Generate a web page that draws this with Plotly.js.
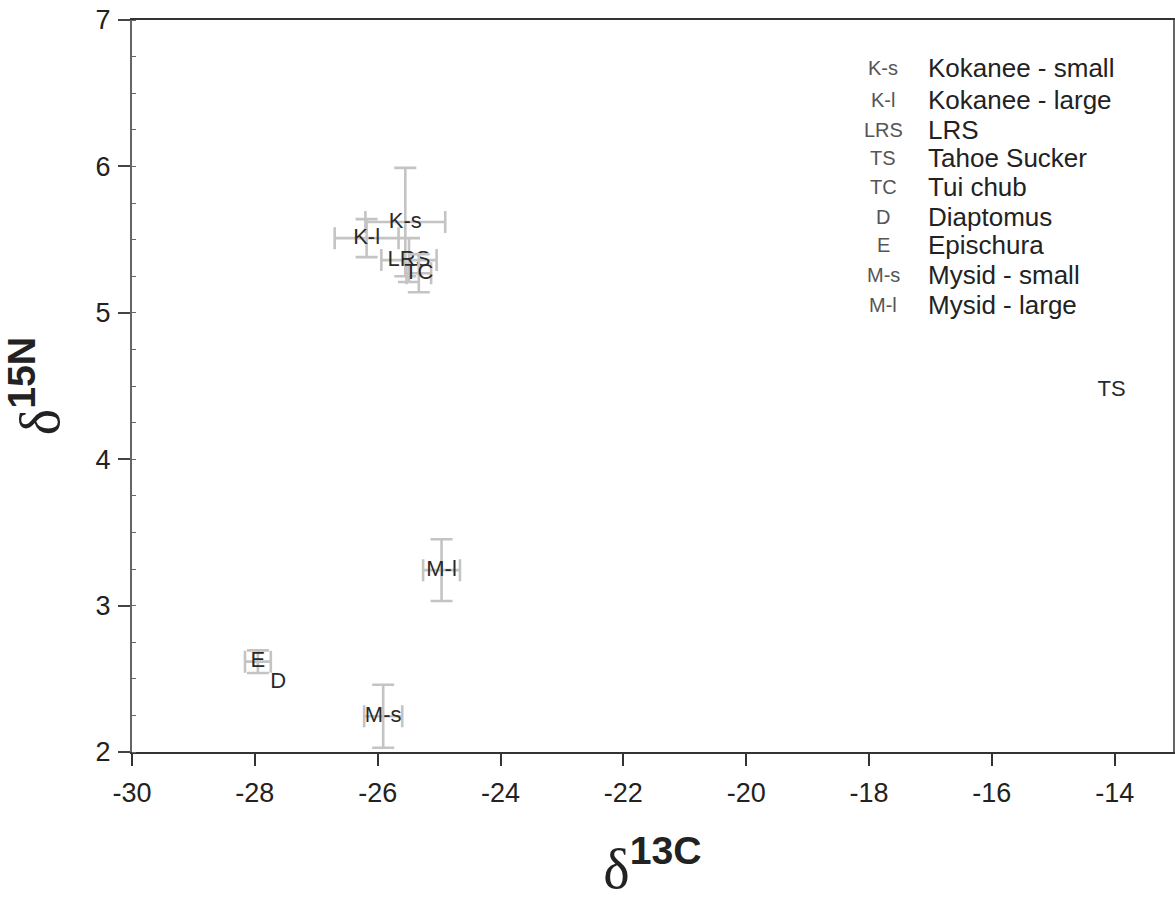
<!DOCTYPE html>
<html>
<head>
<meta charset="utf-8">
<script src="https://cdn.plot.ly/plotly-3.0.1.min.js"></script>
<style>
html,body{margin:0;padding:0;background:#fff;}
#chart{width:1175px;height:900px;}
</style>
</head>
<body>
<div id="chart"></div>
<script>
// Data
const codes   = ["K-s", "K-l", "LRS", "TS", "TC", "D", "E", "M-s", "M-l"];
const names   = ["Kokanee - small", "Kokanee - large", "LRS", "Tahoe Sucker", "Tui chub",
                 "Diaptomus", "Epischura", "Mysid - small", "Mysid - large"];
const d13C    = [-25.55, -26.18, -25.49, -14.05, -25.33, -27.62, -27.95, -25.91, -24.96];
const d15N    = [5.62, 5.51, 5.36, 4.47, 5.27, 2.475, 2.617, 2.244, 3.242];
const d13C_sd = [0.65, 0.52, 0.45, 0, 0.20, 0, 0.21, 0.31, 0.30];
const d15N_sd = [0.37, 0.13, 0.15, 0, 0.13, 0, 0.077, 0.215, 0.211];
const xTicks  = [-30, -28, -26, -24, -22, -20, -18, -16, -14];
const yTicks  = [2, 3, 4, 5, 6, 7];

const FONT = "Liberation Sans, Arial, sans-serif";
const barColor = "#c4c4c4";

const traces = codes.map((c, i) => ({
  type: "scatter",
  mode: "text",
  x: [d13C[i]],
  y: [d15N[i]],
  text: [c],
  textposition: "middle center",
  textfont: {family: FONT, size: 22, color: "#2a2a2a"},
  hoverinfo: "skip",
  showlegend: false,
  error_x: {type: "data", array: [d13C_sd[i]], visible: d13C_sd[i] > 0,
            color: barColor, thickness: 2.6, width: 11},
  error_y: {type: "data", array: [d15N_sd[i]], visible: d15N_sd[i] > 0,
            color: barColor, thickness: 2.6, width: 11}
}));

// Text legend (code + name) in the upper right
const annotations = [];
const rowY = [68, 100, 130, 158, 187, 217, 245, 275, 305];
const plotTop = 20, plotH = 732, plotL = 132, plotW = 1041;
codes.forEach((c, i) => {
  const yp = 1 - (rowY[i] - plotTop) / plotH;
  annotations.push({
    xref: "paper", yref: "paper", x: (883 - plotL) / plotW, y: yp,
    xanchor: "center", yanchor: "middle", showarrow: false,
    text: c, font: {family: FONT, size: 20, color: "#555"}
  });
  annotations.push({
    xref: "paper", yref: "paper", x: (926 - plotL) / plotW, y: yp,
    xanchor: "left", yanchor: "middle", showarrow: false,
    text: names[i], font: {family: FONT, size: 26, color: "#222"}
  });
});

const layout = {
  width: 1175, height: 900,
  margin: {l: 132, r: 2, t: 20, b: 148},
  paper_bgcolor: "#fff", plot_bgcolor: "#fff",
  showlegend: false,
  font: {family: FONT, color: "#222"},
  xaxis: {
    range: [-30, -13.05], tickvals: xTicks, ticktext: xTicks.map(String),
    showgrid: false, zeroline: false,
    showline: true, linecolor: "#333", linewidth: 2, mirror: true,
    ticks: "outside", ticklen: 12, tickwidth: 2, tickcolor: "#333",
    tickfont: {family: FONT, size: 27, color: "#222"},
    ticklabelstandoff: 4,
    title: {
      text: '<span style="font-family:Liberation Serif">δ</span><sup><b>13C</b></sup>',
      font: {family: FONT, size: 56, color: "#222"}, standoff: 44
    }
  },
  yaxis: {
    range: [2, 7], tickvals: yTicks, ticktext: yTicks.map(String),
    showgrid: false, zeroline: false,
    showline: true, linecolor: "#666", linewidth: 2, mirror: true,
    ticks: "outside", ticklen: 12, tickwidth: 2, tickcolor: "#444",
    tickfont: {family: FONT, size: 27, color: "#222"},
    ticklabelstandoff: 2,
    minor: {dtick: 0.25, ticks: "inside", ticklen: 4, tickwidth: 1, tickcolor: "#666"},
    title: {
      text: '<span style="font-family:Liberation Serif">δ</span><sup><b>15N</b></sup>',
      font: {family: FONT, size: 56, color: "#222"}, standoff: 26
    }
  },
  annotations: annotations
};

Plotly.newPlot("chart", traces, layout, {displayModeBar: false, staticPlot: true});
</script>
</body>
</html>
